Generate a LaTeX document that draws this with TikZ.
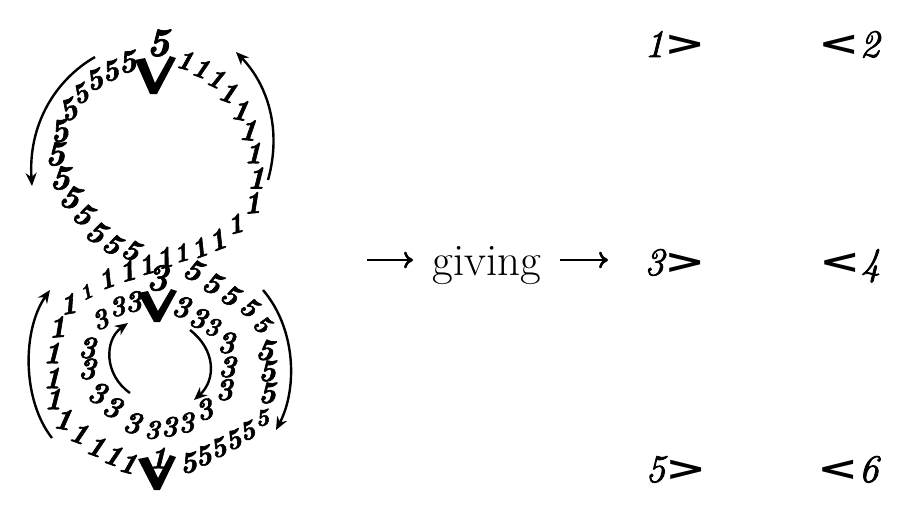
\documentclass[tikz,border=0pt]{standalone}
\usepackage{fontspec}
\usepackage{graphicx}
\newfontfamily\chevfont{DejaVu Sans}
\newfontfamily\heavydig{Latin Modern Roman}[FakeBold=2]
\usetikzlibrary{arrows.meta}
\newcommand{\gtmark}{\raisebox{2pt}{\scalebox{1.45}[1.0]{\chevfont\bfseries\fontsize{34}{34}\selectfont >}}}
\newcommand{\ltmark}{\raisebox{2pt}{\scalebox{1.45}[1.0]{\chevfont\bfseries\fontsize{34}{34}\selectfont <}}}
\begin{document}
\begin{tikzpicture}[x=1pt,y=-1pt,
  dig/.style={inner sep=0pt},
  curvarrow/.style={line width=2.4pt, -{Stealth[length=13pt,width=11pt]}},
  straightarrow/.style={line width=2.6pt, -{To[length=9pt,width=17pt]}},
  lab/.style={inner sep=0pt, font=\fontsize{39}{40}\selectfont}]
\path[use as bounding box] (0,0) rectangle (910,523);
% digits of the figure eight
\foreach \x/\y/\c/\r/\s [count=\i] in {
  158/43/5/0/40, 127/62/5/10/32, 110/71/5/15/30, 94/80/5/20/30, 80/94/5/25/28,
  68/110/5/25/31, 59/131/5/10/33, 55/154/5/0/35, 60/178/5/-5/35, 70/197/5/-20/34,
  83/214/5/-30/32, 96/232/5/-30/32, 112/244/5/-30/30, 131/250/5/-25/30,
  193/270/5/-25/31, 212/283/5/-25/31, 230/295/5/-30/30, 249/307/5/-35/28,
  262/324/5/-40/26, 265/350/5/-10/31, 267/371/5/0/31, 267/393/5/0/31,
  262/418/5/10/24, 247/431/5/20/27, 233/440/5/20/28, 218/448/5/20/28,
  203/456/5/15/29, 188/463/5/10/30,
  185/60/1/-15/28, 201/68/1/-20/28, 216/78/1/-25/28, 228/92/1/-20/30,
  240/110/1/-10/30, 248/130/1/-5/31, 253/153/1/0/31, 256/178/1/0/32,
  252/203/1/5/31, 235/224/1/15/28, 217/240/1/20/30, 199/248/1/20/28,
  181/253/1/15/26, 164/258/1/15/30, 146/265/1/15/28, 127/271/1/15/30,
  106/279/1/20/28, 86/292/1/25/21, 68/304/1/10/30, 57/327/1/5/31,
  52/353/1/0/31, 52/378/1/0/31, 53/399/1/0/31, 63/419/1/-10/31,
  79/433/1/-20/30, 96/446/1/-20/30, 113/455/1/-20/30, 128/463/1/-15/30,
  158/458/1/0/31,
  157/278/3/0/38, 133/302/3/10/30, 117/307/3/15/28, 100/320/3/25/28,
  87/348/3/0/31, 87/369/3/0/31, 97/393/3/-15/31, 112/407/3/-20/31,
  132/423/3/-10/31, 152/430/3/0/27, 169/427/3/5/29, 186/423/3/10/29,
  204/410/3/20/30, 224/390/3/5/31, 227/367/3/0/31, 226/343/3/0/31,
  212/327/3/-10/26, 198/318/3/-15/30, 181/307/3/-10/31}
  \node[dig, rotate=\r, font=\heavydig\fontsize{\s}{\s}\selectfont\bfseries\itshape] (d\i) at (\x,\y) {\c};
% the three V marks
\fill (135,60) -- (145,58) -- (155,83) -- (170,56) -- (176,58) -- (157,94) -- (150,94) -- cycle;
\fill (138,293) -- (148,291) -- (158,311) -- (171,289) -- (177,291) -- (160,322) -- (154,322) -- cycle;
\fill (138,459) -- (148,457) -- (158,478) -- (170,455) -- (176,457) -- (160,490) -- (154,490) -- cycle;
% curved arrows
\coordinate (a1s) at (95,57);   \coordinate (a1e) at (32,186);
\coordinate (a2s) at (268,180); \coordinate (a2e) at (236,52);
\coordinate (a3s) at (52,438);  \coordinate (a3e) at (50,290);
\coordinate (a4s) at (263,290); \coordinate (a4e) at (276,430);
\coordinate (a5s) at (130,393); \coordinate (a5e) at (128,323);
\coordinate (a6s) at (190,330); \coordinate (a6e) at (194,400);
\draw[curvarrow] (a1s) .. controls (55,80) and (28,125) .. (a1e);
\draw[curvarrow] (a2s) .. controls (282,130) and (268,85) .. (a2e);
\draw[curvarrow] (a3s) .. controls (22,400) and (22,330) .. (a3e);
\draw[curvarrow] (a4s) .. controls (297,330) and (297,390) .. (a4e);
\draw[curvarrow] (a5s) .. controls (104,375) and (104,340) .. (a5e);
\draw[curvarrow] (a6s) .. controls (216,350) and (216,380) .. (a6e);
% giving
\node[inner sep=0pt, anchor=base, font=\fontsize{45}{46}\selectfont] (giving) at (487,275) {giving};
\coordinate (g1s) at (367,260); \coordinate (g1e) at (413,260);
\coordinate (g2s) at (560,260); \coordinate (g2e) at (608,260);
\draw[straightarrow] (g1s) -- (g1e);
\draw[straightarrow] (g2s) -- (g2e);
% results
\node[lab, anchor=base] (r1) at (675,57) {{\heavydig\itshape 1}\gtmark};
\node[lab, anchor=base] (r2) at (849,57) {\ltmark{\heavydig\itshape 2}};
\node[lab, anchor=base] (r3) at (675,275) {{\heavydig\itshape 3}\gtmark};
\node[lab, anchor=base] (r4) at (850,275) {\ltmark{\heavydig\itshape 4}};
\node[lab, anchor=base] (r5) at (676,482) {{\heavydig\itshape 5}\gtmark};
\node[lab, anchor=base] (r6) at (848,482) {\ltmark{\heavydig\itshape 6}};
\end{tikzpicture}
\end{document}
